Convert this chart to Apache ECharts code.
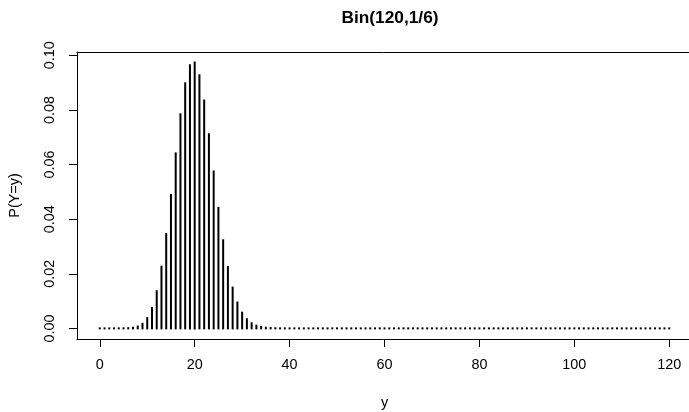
<!DOCTYPE html>
<html>
<head>
<meta charset="utf-8">
<script src="https://cdn.jsdelivr.net/npm/echarts@6/dist/echarts.min.js"></script>
<style>html,body{margin:0;padding:0;background:#fff}#c{width:689px;height:412px}</style>
</head>
<body>
<div id="c"></div>
<script>
// P(Y=y) for y = 0..120
const probs = [
  3.2e-10, 7.6e-9, 9.0e-8, 7.1e-7, 4.1e-6, 1.92e-5, 7.36e-5, 0.00024, 0.000678, 0.001686,
  0.003744, 0.007487, 0.01360, 0.02260, 0.03454, 0.04882, 0.06408, 0.07840, 0.08973, 0.09634,
  0.09731, 0.09268, 0.08341, 0.07108, 0.05746, 0.04413, 0.03225, 0.02245, 0.01492, 0.009464,
  0.005742, 0.003334, 0.001855, 0.000989, 0.000506, 0.000249, 0.000118, 0.0000534, 0.0000233, 0.0000098,
  0.000004, 0, 0, 0, 0, 0, 0, 0, 0, 0,
  0, 0, 0, 0, 0, 0, 0, 0, 0, 0,
  0, 0, 0, 0, 0, 0, 0, 0, 0, 0,
  0, 0, 0, 0, 0, 0, 0, 0, 0, 0,
  0, 0, 0, 0, 0, 0, 0, 0, 0, 0,
  0, 0, 0, 0, 0, 0, 0, 0, 0, 0,
  0, 0, 0, 0, 0, 0, 0, 0, 0, 0,
  0, 0, 0, 0, 0, 0, 0, 0, 0, 0,
  0
];
const xTicks = [0, 20, 40, 60, 80, 100, 120];
const yTicks = [0, 0.02, 0.04, 0.06, 0.08, 0.10];
const titleText = 'Bin(120,1/6)';
const xName = 'y';
const yName = 'P(Y=y)';

const data = probs.map((p, i) => [i, p]);
const font = 'Liberation Sans, Arial, Helvetica, sans-serif';
const lineStyle = {color: '#000', width: 1};

const chart = echarts.init(document.getElementById('c'), null, {renderer: 'canvas'});
chart.setOption({
  animation: false,
  backgroundColor: '#fff',
  title: {
    text: titleText,
    left: 385, top: 5, textAlign: 'center',
    textStyle: {fontFamily: font, fontWeight: 'bold', fontSize: 17.3, color: '#000'}
  },
  grid: {
    left: 77, top: 52, right: -3, bottom: 73,
    show: false, containLabel: false, outerBoundsMode: 'none'
  },
  xAxis: [{
    type: 'value', min: -4.8, max: 124.8, position: 'bottom',
    name: xName, nameLocation: 'middle', nameGap: 57,
    nameTextStyle: {fontFamily: font, fontSize: 14.4, color: '#000'},
    axisLine: {show: true, onZero: false, lineStyle: lineStyle},
    splitLine: {show: false},
    axisTick: {show: true, length: 8, customValues: xTicks, lineStyle: lineStyle},
    axisLabel: {customValues: xTicks, margin: 19, fontFamily: font, fontSize: 14.4, color: '#000'}
  }, {
    type: 'value', min: -4.8, max: 124.8, position: 'top',
    axisLine: {show: true, onZero: false, lineStyle: lineStyle},
    splitLine: {show: false}, axisTick: {show: false}, axisLabel: {show: false}
  }],
  yAxis: {
    type: 'value', min: -0.00389, max: 0.1012, position: 'left',
    name: yName, nameLocation: 'middle', nameGap: 55, nameRotate: 90,
    nameTextStyle: {fontFamily: font, fontSize: 14.4, color: '#000'},
    axisLine: {show: true, onZero: false, lineStyle: lineStyle},
    splitLine: {show: false},
    axisTick: {show: true, length: 8, customValues: yTicks, lineStyle: lineStyle},
    axisLabel: {customValues: yTicks, rotate: 90, margin: 20, fontFamily: font, fontSize: 14.4, color: '#000',
      formatter: v => Number(v).toFixed(2)}
  },
  series: [{
    type: 'custom',
    xAxisIndex: 0,
    data: data,
    encode: {x: 0, y: 1},
    renderItem: function (params, api) {
      const x = api.value(0), v = api.value(1);
      const top = api.coord([x, v]);
      const base = api.coord([x, 0]);
      return {
        type: 'rect',
        shape: {x: top[0] - 1, y: top[1] - 1, width: 2, height: base[1] - top[1] + 2},
        style: {fill: '#000'}
      };
    }
  }]
});
</script>
</body>
</html>
